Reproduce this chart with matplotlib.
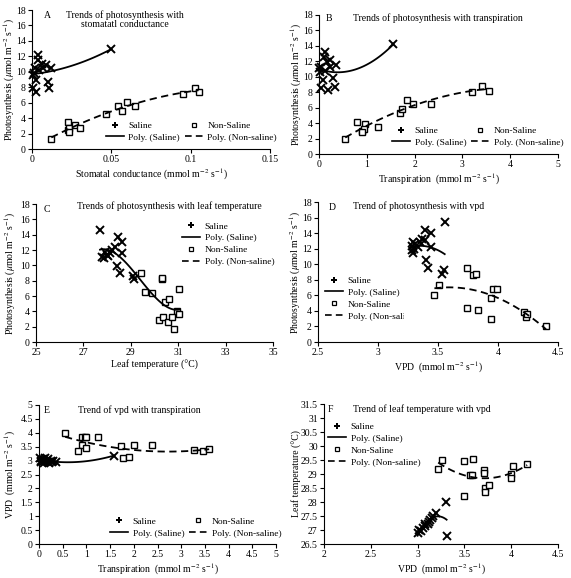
import matplotlib
matplotlib.use("Agg")
import matplotlib.pyplot as plt
from matplotlib.lines import Line2D
from matplotlib.ticker import FormatStrFormatter
from matplotlib.transforms import Bbox
import numpy as np

plt.rcParams['font.family'] = ['Liberation Serif', 'DejaVu Serif']
plt.rcParams['mathtext.fontset'] = 'stix'

# A: photosynthesis vs stomatal conductance
a_sal_x = [0.0036, 0.0036, 0.0015, 0.0047, 0.0088, 0.012, 0.0099, 0.011, 0.0025, 0.0004,
           0.0025, 0.0067, 0.0004, 0.0060, 0.002, 0.05]
a_sal_y = [12.2, 11.5, 9.8, 10.2, 10.9, 10.45, 8.7, 7.9, 7.4, 7.9, 8.9, 10.45, 9.6, 11.0, 10.5, 13.0]
a_non_x = [0.0122, 0.0225, 0.023, 0.0235, 0.0231, 0.0269, 0.0305, 0.0468, 0.0542, 0.057,
           0.0599, 0.0647, 0.0952, 0.1025, 0.105]
a_non_y = [1.3, 2.5, 3.5, 2.7, 2.15, 3.1, 2.76, 4.5, 5.56, 4.96, 6.03, 5.56, 7.16, 7.93, 7.37]

# B: photosynthesis vs transpiration
b_sal_x = [0.12, 0.05, 0.22, 0.36, 0.12, 0.08, 0.29, 0.05, 0.19, 0.33, 0.01, 0.22, 0.10, 0.17, 0.03, 1.55]
b_sal_y = [13.25, 11.3, 12.2, 11.5, 10.7, 9.6, 9.8, 8.5, 8.3, 8.7, 11.1, 11.3, 12.6, 11.9, 10.6, 14.2]
b_non_x = [0.55, 0.80, 0.97, 0.90, 0.94, 0.89, 1.24, 1.69, 1.74, 1.85, 1.96, 2.34, 3.21, 3.41, 3.55]
b_non_y = [2.0, 4.2, 3.9, 3.0, 3.3, 2.8, 3.45, 5.3, 5.8, 7.0, 6.5, 6.5, 8.0, 8.8, 8.2]

# C: photosynthesis vs leaf temperature
c_sal_x = [27.7, 28.47, 28.62, 28.34, 27.92, 27.85, 28.13, 28.62, 28.4, 28.55, 29.1, 29.15,
           27.99, 28.2, 27.8, 28.05]
c_sal_y = [14.6, 13.75, 13.1, 12.45, 11.8, 10.9, 11.6, 11.6, 9.85, 9.0, 8.55, 8.2, 11.4, 12.0, 11.1, 11.2]
c_non_x = [29.43, 29.6, 29.88, 30.3, 30.33, 31.04, 30.44, 30.62, 30.93, 31.04, 30.2, 30.36,
           30.58, 30.75, 30.83]
c_non_y = [9.0, 6.46, 6.38, 8.2, 8.3, 6.9, 5.2, 5.6, 4.0, 3.7, 2.9, 3.25, 2.56, 3.2, 1.7]

# D: photosynthesis vs vpd
d_sal_x = [3.556, 3.39, 3.445, 3.29, 3.39, 3.33, 3.28, 3.29, 3.445, 3.40, 3.42, 3.53, 3.31,
           3.35, 3.37, 3.30, 3.55, 3.28]
d_sal_y = [15.4, 14.4, 14.0, 12.9, 13.1, 12.2, 11.8, 11.4, 12.2, 10.5, 9.5, 8.8, 12.6, 12.8,
           13.3, 12.0, 9.2, 12.3]
d_non_x = [3.51, 3.47, 3.74, 3.79, 3.82, 3.74, 3.83, 3.94, 3.94, 3.96, 3.99, 4.22, 4.23, 4.24, 4.40]
d_non_y = [7.37, 6.1, 9.5, 8.66, 8.8, 4.4, 4.16, 5.66, 2.9, 6.8, 6.8, 3.86, 3.2, 3.6, 2.0]

# E: vpd vs transpiration
e_sal_x = [0.02, 0.05, 0.08, 0.10, 0.12, 0.15, 0.18, 0.20, 0.22, 0.25, 0.28, 0.30, 0.35, 0.05, 0.10, 1.58]
e_sal_y = [3.1, 2.95, 3.05, 2.9, 3.1, 3.0, 2.95, 3.05, 2.9, 3.0, 2.95, 3.0, 2.95, 3.0, 3.0, 3.18]
e_non_x = [0.55, 0.90, 0.97, 1.0, 0.90, 0.99, 0.83, 1.25, 1.72, 1.77, 1.90, 2.0, 2.38, 3.26, 3.45, 3.59]
e_non_y = [4.0, 3.84, 3.84, 3.84, 3.56, 3.44, 3.35, 3.84, 3.53, 3.09, 3.12, 3.56, 3.56, 3.37, 3.33, 3.41]

# F: leaf temperature vs vpd
f_sal_x = [3.0, 3.04, 3.08, 3.11, 3.13, 3.15, 3.2, 3.16, 3.02, 3.06, 3.30, 3.31, 3.08, 3.12]
f_sal_y = [26.89, 26.95, 27.13, 27.21, 27.37, 27.43, 27.6, 27.5, 27.0, 27.07, 27.99, 26.77, 27.2, 27.3]
f_non_x = [3.26, 3.22, 3.50, 3.59, 3.56, 3.58, 3.50, 3.71, 3.71, 3.72, 3.72, 3.76, 4.02, 4.0, 4.0, 4.17]
f_non_y = [29.51, 29.18, 29.45, 29.55, 28.95, 28.98, 28.2, 29.15, 29.05, 28.5, 28.35, 28.6,
           29.3, 29.0, 28.86, 29.37]

UNIT = r'(mmol m$^{-2}$ s$^{-1}$)'
PHOTO = r'Photosynthesis ($\mu$mol m$^{-2}$ s$^{-1}$)'
DASH = (0, (4, 2.5))

W, H = 571, 578
fig = plt.figure(figsize=(W / 100, H / 100), dpi=100)

sal_h = Line2D([], [], ls='none', marker='P', ms=3.8, color='k', mew=0)
non_h = Line2D([], [], ls='none', marker='s', ms=3.5, mfc='white', mec='k', mew=0.9)
psal_h = Line2D([], [], ls='-', lw=1.2, color='k')
pnon_h = Line2D([], [], ls=DASH, lw=1.2, color='k')


def panel(box, xlim, ylim, xticks, yticks, xlabel, ylabel, ylab_x):
    l, t, r, b = box
    ax = fig.add_axes([l / W, 1 - b / H, (r - l) / W, (b - t) / H])
    ax.set_xlim(xlim)
    ax.set_ylim(ylim)
    ax.set_xticks(xticks)
    ax.set_yticks(yticks)
    ax.xaxis.set_major_formatter(FormatStrFormatter('%g'))
    ax.yaxis.set_major_formatter(FormatStrFormatter('%g'))
    for s in ['top', 'right']:
        ax.spines[s].set_visible(False)
    for s in ['left', 'bottom']:
        ax.spines[s].set_linewidth(0.8)
    ax.tick_params(direction='out', length=3, width=0.8, labelsize=7, pad=1.5)
    ax.set_xlabel(xlabel, fontsize=7, labelpad=2)
    ax.set_ylabel(ylabel, fontsize=7)
    ax.yaxis.set_label_coords(ylab_x, 0.5)
    return ax


def scatter(ax, sx, sy, nx, ny):
    ax.plot(sx, sy, ls='none', marker='x', ms=6, mew=1.4, color='k', clip_on=False)
    ax.plot(nx, ny, ls='none', marker='s', ms=4.5, mfc='white', mec='k', mew=1.0, clip_on=False)


def trend(ax, x, y, deg, ls):
    coef = np.polyfit(x, y, deg)
    xs = np.linspace(min(x), max(x), 120)
    ax.plot(xs, np.polyval(coef, xs), ls=ls, lw=1.3, color='k')


def legend(ax, anchor, ncol):
    handles = [sal_h, psal_h, non_h, pnon_h]
    labels = ['Saline', 'Poly. (Saline)', 'Non-Saline', 'Poly. (Non-saline)']
    return ax.legend(handles, labels, ncol=ncol, loc='upper left', bbox_to_anchor=anchor,
                     frameon=False, fontsize=6.8, borderpad=0, borderaxespad=0,
                     handlelength=1.9, handletextpad=0.5, labelspacing=0.35,
                     columnspacing=0.5)


# Panel A
ax = panel((32, 10, 270, 149), (0, 0.15), (0, 18), [0, 0.05, 0.1, 0.15], range(0, 19, 2),
           'Stomatal conductance ' + UNIT, PHOTO, -0.063)
scatter(ax, a_sal_x, a_sal_y, a_non_x, a_non_y)
trend(ax, a_sal_x, a_sal_y, 2, '-')
trend(ax, a_non_x, a_non_y, 2, DASH)
ax.text(0.063, 0.964, 'A', transform=ax.transAxes, fontsize=7, va='center', ha='center')
ax.text(0.39, 1.0, 'Trends of photosynthesis with\nstomatatl conductance', transform=ax.transAxes,
        fontsize=7, va='top', ha='center', linespacing=1.1)
legend(ax, (0.31, 0.2), 2)

# Panel B
ax = panel((319, 15, 558, 154), (0, 5), (0, 18), range(0, 6), range(0, 19, 2),
           'Transpiration  ' + UNIT, PHOTO, -0.063)
scatter(ax, b_sal_x, b_sal_y, b_non_x, b_non_y)
trend(ax, b_sal_x, b_sal_y, 2, '-')
trend(ax, b_non_x, b_non_y, 2, DASH)
ax.text(0.04, 0.978, 'B', transform=ax.transAxes, fontsize=7, va='center', ha='center')
ax.text(0.142, 0.978, 'Trends of photosynthesis with transpiration', transform=ax.transAxes,
        fontsize=7, va='center', ha='left')
legend(ax, (0.305, 0.2), 2)

# Panel C
ax = panel((36, 204, 273, 342), (25, 35), (0, 18), range(25, 36, 2), range(0, 19, 2),
           'Leaf temperature (°C)', PHOTO, -0.076)
scatter(ax, c_sal_x, c_sal_y, c_non_x, c_non_y)
trend(ax, c_sal_x + c_non_x, c_sal_y + c_non_y, 3, '-')
ax.text(0.046, 0.957, 'C', transform=ax.transAxes, fontsize=7, va='center', ha='center')
ax.text(0.173, 0.985, 'Trends of photosynthesis with leaf temperature', transform=ax.transAxes,
        fontsize=7, va='center', ha='left')
legend(ax, (0.616, 0.87), 1)

# Panel D
ax = panel((318, 202, 558, 342), (2.5, 4.5), (0, 18), [2.5, 3, 3.5, 4, 4.5], range(0, 19, 2),
           'VPD  ' + UNIT, PHOTO, -0.063)
scatter(ax, d_sal_x, d_sal_y, d_non_x, d_non_y)
trend(ax, d_sal_x, d_sal_y, 2, '-')
trend(ax, d_non_x, d_non_y, 2, DASH)
ax.text(0.058, 0.964, 'D', transform=ax.transAxes, fontsize=7, va='center', ha='center')
ax.text(0.146, 0.97, 'Trend of photosynthesis with vpd', transform=ax.transAxes,
        fontsize=7, va='center', ha='left')
leg = legend(ax, (0.03, 0.47), 1)
clip = Bbox.from_extents(0, 0, 404, H)
for txt in leg.get_texts():
    txt.set_clip_box(clip)
    txt.set_clip_on(True)

# Panel E
ax = panel((39, 405, 276, 544), (0, 5), (0, 5), np.arange(0, 5.01, 0.5), np.arange(0, 5.01, 0.5),
           'Transpiration  ' + UNIT, 'VPD  ' + UNIT, -0.089)
scatter(ax, e_sal_x, e_sal_y, e_non_x, e_non_y)
trend(ax, e_sal_x, e_sal_y, 2, '-')
trend(ax, e_non_x, e_non_y, 2, DASH)
ax.text(0.034, 0.964, 'E', transform=ax.transAxes, fontsize=7, va='center', ha='center')
ax.text(0.165, 0.964, 'Trend of vpd with transpiration', transform=ax.transAxes,
        fontsize=7, va='center', ha='left')
legend(ax, (0.30, 0.194), 2)

# Panel F
ax = panel((324, 404, 558, 544), (2, 4.5), (26.5, 31.5), [2, 2.5, 3, 3.5, 4, 4.5],
           np.arange(26.5, 31.51, 0.5), 'VPD  ' + UNIT, 'Leaf temperature (°C)', -0.094)
scatter(ax, f_sal_x, f_sal_y, f_non_x, f_non_y)
trend(ax, f_sal_x, f_sal_y, 2, '-')
trend(ax, f_non_x, f_non_y, 2, DASH)
ax.text(0.026, 0.964, 'F', transform=ax.transAxes, fontsize=7, va='center', ha='center')
ax.text(0.124, 0.964, 'Trend of leaf temperature with vpd', transform=ax.transAxes,
        fontsize=7, va='center', ha='left')
legend(ax, (0.017, 0.87), 1)

fig.savefig('out.png', dpi=100)
